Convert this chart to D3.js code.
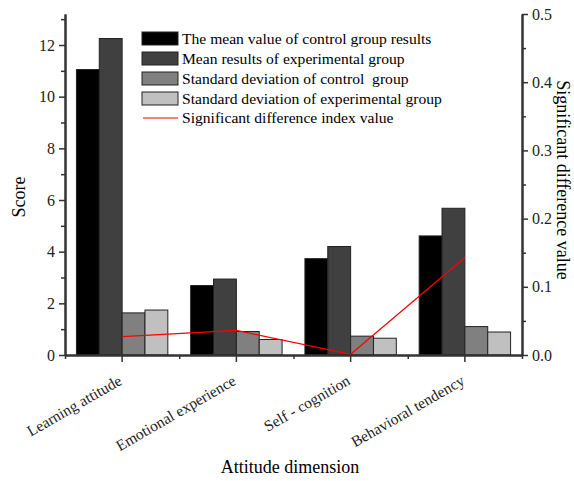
<!doctype html>
<html>
<head>
  <script src="https://d3js.org/d3.v7.min.js"></script>
  <style>
  body { margin: 0; background: #fff; }
  svg { font-family: "Liberation Serif", "Times New Roman", serif; }
  .axis path, .axis line { stroke: #333; }
  .axis path { stroke-width: 2; }
  .axis line { stroke-width: 1.5; }
  .axis text { font-family: "Liberation Serif", "Times New Roman", serif; font-size: 16px; fill: #222; }
  </style>
</head>
<body>
  <script>
    var categories = ["Learning attitude", "Emotional experience", "Self - cognition", "Behavioral tendency"];
    var seriesNames = ["The mean value of control group results",
                       "Mean results of experimental group",
                       "Standard deviation of control  group",
                       "Standard deviation of experimental group"];
    var controlMean = [11.05, 2.69, 3.73, 4.61];
    var experimentalMean = [12.25, 2.94, 4.2, 5.68];
    var controlSD = [1.63, 0.91, 0.73, 1.1];
    var experimentalSD = [1.74, 0.6, 0.65, 0.89];
    var significance = [0.027, 0.036, 0.001, 0.143];
    var lineName = "Significant difference index value";
    var leftTicks = [0, 2, 4, 6, 8, 10, 12];
    var rightTicks = [0, 0.1, 0.2, 0.3, 0.4, 0.5];

    var colours = ["#000000", "#404040", "#808080", "#c0c0c0"];

    var width = 574, height = 481,
        plotLeft = 65, plotRight = 522, plotTop = 14, plotBottom = 355;

    var svg = d3.select("body").append("svg")
        .attr("width", width)
        .attr("height", height);

    var x = d3.scaleBand().domain(categories).range([plotLeft, plotRight]).padding(0);
    var bw = x.bandwidth();
    var x1 = d3.scaleBand().domain(d3.range(4)).range([bw * 0.1, bw * 0.9]).padding(0);
    var y = d3.scaleLinear().domain([0, 13.2]).range([plotBottom, plotTop]);
    var y2 = d3.scaleLinear().domain([0, 0.5]).range([plotBottom, plotTop]);

    var table = categories.map(function(c, i) {
      return {cat: c, values: [controlMean[i], experimentalMean[i], controlSD[i], experimentalSD[i]]};
    });

    // bars
    var group = svg.selectAll(".group")
        .data(table)
      .enter().append("g")
        .attr("class", "group")
        .attr("transform", function(d) { return "translate(" + x(d.cat) + ",0)"; });

    group.selectAll("rect")
        .data(function(d) { return d.values; })
      .enter().append("rect")
        .attr("x", function(d, i) { return x1(i); })
        .attr("y", function(d) { return y(d); })
        .attr("width", x1.bandwidth())
        .attr("height", function(d) { return plotBottom - y(d); })
        .style("fill", function(d, i) { return colours[i]; })
        .style("stroke", "#222")
        .style("stroke-width", 1);

    // significance line
    var line = d3.line()
        .x(function(d, i) { return x(categories[i]) + bw / 2; })
        .y(function(d) { return y2(d); });

    svg.append("path")
        .datum(significance)
        .attr("d", line)
        .style("fill", "none")
        .style("stroke", "#ff0000")
        .style("stroke-width", 1.2);

    // left axis (major + minor ticks)
    var minorLeft = d3.range(1, 13.2, 2);
    svg.append("g")
        .attr("class", "axis")
        .attr("transform", "translate(" + plotLeft + ",0)")
        .call(d3.axisLeft(y).tickValues(minorLeft).tickSize(4).tickSizeOuter(0).tickFormat(""));
    svg.append("g")
        .attr("class", "axis")
        .attr("transform", "translate(" + plotLeft + ",0)")
        .call(d3.axisLeft(y).tickValues(leftTicks).tickSize(6).tickSizeOuter(0).tickPadding(4).tickFormat(d3.format("d")));

    // right axis
    var minorRight = [0.05, 0.15, 0.25, 0.35, 0.45];
    svg.append("g")
        .attr("class", "axis")
        .attr("transform", "translate(" + plotRight + ",0)")
        .call(d3.axisRight(y2).tickValues(minorRight).tickSize(4).tickSizeOuter(0).tickFormat(""));
    svg.append("g")
        .attr("class", "axis")
        .attr("transform", "translate(" + plotRight + ",0)")
        .call(d3.axisRight(y2).tickValues(rightTicks).tickSize(6).tickSizeOuter(0).tickPadding(4).tickFormat(d3.format(".1f")));

    // bottom axis
    var boundaries = categories.map(function(c) { return x(c); }).concat([plotRight]);
    var xMinor = d3.scaleLinear().domain([plotLeft, plotRight]).range([plotLeft, plotRight]);
    svg.append("g")
        .attr("class", "axis")
        .attr("transform", "translate(0," + plotBottom + ")")
        .call(d3.axisBottom(xMinor).tickValues(boundaries).tickSize(4).tickSizeOuter(0).tickFormat(""));

    var xAxis = svg.append("g")
        .attr("class", "axis")
        .attr("transform", "translate(0," + plotBottom + ")")
        .call(d3.axisBottom(x).tickSize(7).tickSizeOuter(0));

    xAxis.selectAll("text")
        .style("font-size", "15.5px")
        .style("text-anchor", "end")
        .attr("x", 0)
        .attr("y", 0)
        .attr("dx", 0)
        .attr("dy", "0.35em")
        .attr("transform", "translate(-2,24) rotate(-30)");

    // axis titles
    svg.append("text")
        .attr("transform", "translate(25,197) rotate(-90)")
        .style("text-anchor", "middle")
        .style("font-size", "18px")
        .text("Score");

    svg.append("text")
        .attr("transform", "translate(557,180) rotate(90)")
        .style("text-anchor", "middle")
        .style("font-size", "18px")
        .text("Significant difference value");

    svg.append("text")
        .attr("x", 290)
        .attr("y", 473)
        .style("text-anchor", "middle")
        .style("font-size", "18px")
        .text("Attitude dimension");

    // legend
    var legend = svg.append("g").attr("transform", "translate(142,32)");
    var items = legend.selectAll(".item")
        .data(seriesNames)
      .enter().append("g")
        .attr("class", "item")
        .attr("transform", function(d, i) { return "translate(0," + i * 20 + ")"; });

    items.append("rect")
        .attr("width", 36)
        .attr("height", 13)
        .style("fill", function(d, i) { return colours[i]; })
        .style("stroke", "#222")
        .style("stroke-width", 1);

    items.append("text")
        .attr("x", 40)
        .attr("y", 7)
        .attr("dy", "0.35em")
        .style("font-size", "15.6px")
        .style("white-space", "pre")
        .text(function(d) { return d; });

    var lineItem = legend.append("g").attr("transform", "translate(0,80)");
    lineItem.append("line")
        .attr("x1", 1).attr("x2", 36)
        .attr("y1", 6).attr("y2", 6)
        .style("stroke", "#ff0000")
        .style("stroke-width", 1.2);
    lineItem.append("text")
        .attr("x", 40)
        .attr("y", 6)
        .attr("dy", "0.35em")
        .style("font-size", "15.6px")
        .text(lineName);
  </script>
</body>
</html>
